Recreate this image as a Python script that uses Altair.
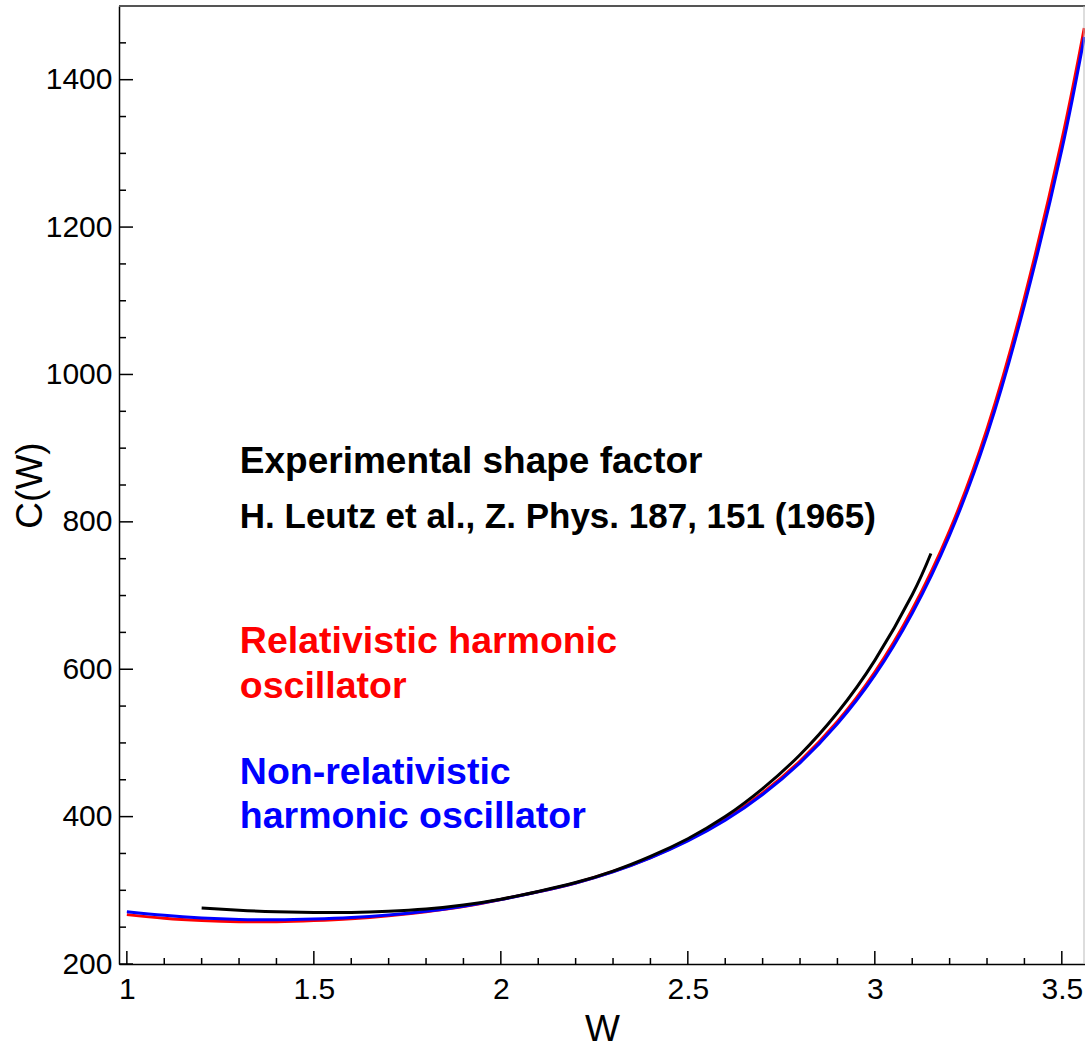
import altair as alt
import pandas as pd

# ---- data ----
W = [1.0, 1.1, 1.2, 1.3, 1.4, 1.5, 1.6, 1.7, 1.8, 1.9, 2.0, 2.1, 2.2, 2.3, 2.4,
     2.5, 2.6, 2.7, 2.8, 2.9, 3.0, 3.1, 3.2, 3.3, 3.4, 3.5, 3.56]
C_rel = [267, 262, 259, 257.5, 257.5, 259, 261.5, 265.5, 271, 278, 287.5, 298, 310, 325.5, 344.5,
         368, 396.5, 432, 475.5, 529, 596, 681, 788, 926, 1104, 1318, 1470]
C_nonrel = [271, 266, 262.5, 260.5, 260, 261, 263, 266.5, 271.5, 278.5, 287.5, 298, 310, 325, 344,
            367, 395, 430, 473, 526, 592, 676, 782, 918, 1094, 1305, 1458]
W_exp = [1.2, 1.3, 1.4, 1.5, 1.6, 1.7, 1.8, 1.9, 2.0, 2.1, 2.2, 2.3, 2.4, 2.5, 2.6,
         2.7, 2.8, 2.9, 3.0, 3.1, 3.15]
C_exp = [276, 273, 271, 270, 270, 271.5, 274.5, 280, 288, 298.5, 310.5, 326, 346, 370, 400,
         438, 484, 541, 612, 701, 757]

x_major = [1, 1.5, 2, 2.5, 3, 3.5]
x_minor = [1.1, 1.2, 1.3, 1.4, 1.6, 1.7, 1.8, 1.9, 2.1, 2.2, 2.3, 2.4, 2.6, 2.7,
           2.8, 2.9, 3.1, 3.2, 3.3, 3.4]
y_major = [200, 400, 600, 800, 1000, 1200, 1400]
y_minor = [250, 300, 350, 450, 500, 550, 650, 700, 750, 850, 900, 950, 1050, 1100,
           1150, 1250, 1300, 1350, 1450]

ann_text = ["Experimental shape factor", "H. Leutz et al., Z. Phys. 187, 151 (1965)",
            "Relativistic harmonic", "oscillator",
            "Non-relativistic", "harmonic oscillator"]
ann_x = [1.302, 1.302, 1.302, 1.302, 1.302, 1.302]
ann_y = [866, 792, 622, 561, 444, 385]
ann_color = ["#000000", "#000000", "#FF0000", "#FF0000", "#0000FF", "#0000FF"]
ann_size = [37, 35, 37.5, 37.5, 37.5, 37.5]

PW, PH = 966, 958
FONT = "Liberation Sans"

xs = alt.Scale(domain=[0.979, 3.562], nice=False, zero=False)
ys = alt.Scale(domain=[200, 1500], nice=False, zero=False)

series = ["rel", "nonrel", "exp"]
rows = []
for w, c in zip(W, C_rel):
    rows.append({"W": w, "C": c, "s": "rel"})
for w, c in zip(W, C_nonrel):
    rows.append({"W": w, "C": c, "s": "nonrel"})
for w, c in zip(W_exp, C_exp):
    rows.append({"W": w, "C": c, "s": "exp"})
df = pd.DataFrame(rows)

lines = alt.Chart(df).mark_line(interpolate="natural", strokeWidth=3, clip=True).encode(
    x=alt.X("W:Q", scale=xs, title="W",
            axis=alt.Axis(values=x_major, format="~g", labelPadding=10, titlePadding=7)),
    y=alt.Y("C:Q", scale=ys, title="C(W)",
            axis=alt.Axis(values=y_major, format="d", labelPadding=7, titlePadding=4,
                          titleBaseline="alphabetic")),
    color=alt.Color("s:N", scale=alt.Scale(domain=series,
                                           range=["#FF0000", "#0000FF", "#000000"]),
                    legend=None),
    order=alt.Order("W:Q"),
)

def vticks(vals, length):
    d = pd.DataFrame({"W": vals})
    return alt.Chart(d).mark_rule(color="#000", strokeWidth=1.5).encode(
        x=alt.X("W:Q", scale=xs),
        y=alt.value(PH), y2=alt.value(PH - length))

def hticks(vals, length):
    d = pd.DataFrame({"C": vals})
    return alt.Chart(d).mark_rule(color="#000", strokeWidth=1.5).encode(
        y=alt.Y("C:Q", scale=ys),
        x=alt.value(0), x2=alt.value(length))

top_border = alt.Chart(pd.DataFrame({"a": [0]})).mark_rule(color="#555", strokeWidth=2).encode(
    x=alt.value(0), x2=alt.value(PW), y=alt.value(0))
right_border = alt.Chart(pd.DataFrame({"a": [0]})).mark_rule(color="#bbb", strokeWidth=1).encode(
    x=alt.value(PW - 1), y=alt.value(0), y2=alt.value(PH))

ann = pd.DataFrame({"W": ann_x, "C": ann_y, "t": ann_text, "c": ann_color, "fs": ann_size})
texts = alt.Chart(ann).mark_text(align="left", baseline="alphabetic", font=FONT,
                                 fontWeight="bold").encode(
    x=alt.X("W:Q", scale=xs),
    y=alt.Y("C:Q", scale=ys),
    text="t:N",
    color=alt.Color("c:N", scale=None),
    size=alt.Size("fs:Q", scale=None),
)

chart = alt.layer(
    lines, vticks(x_major, 13), vticks(x_minor, 6), hticks(y_major, 14), hticks(y_minor, 7),
    top_border, right_border, texts
).properties(
    width=PW, height=PH,
    autosize=alt.AutoSizeParams(type="none"),
    padding={"left": 119, "top": 6, "right": 0, "bottom": 90},
    background="white",
).configure_view(stroke=None).configure_axis(
    tickSize=0, grid=False, labelFontSize=30, labelFont=FONT, labelColor="#000",
    domainColor="#000", domainWidth=1.5, titleFontSize=37, titleFont=FONT,
    titleFontWeight="normal", titleColor="#000", labelOverlap=False,
)

chart.save("out.html", embed_options={"renderer": "svg", "actions": False})
